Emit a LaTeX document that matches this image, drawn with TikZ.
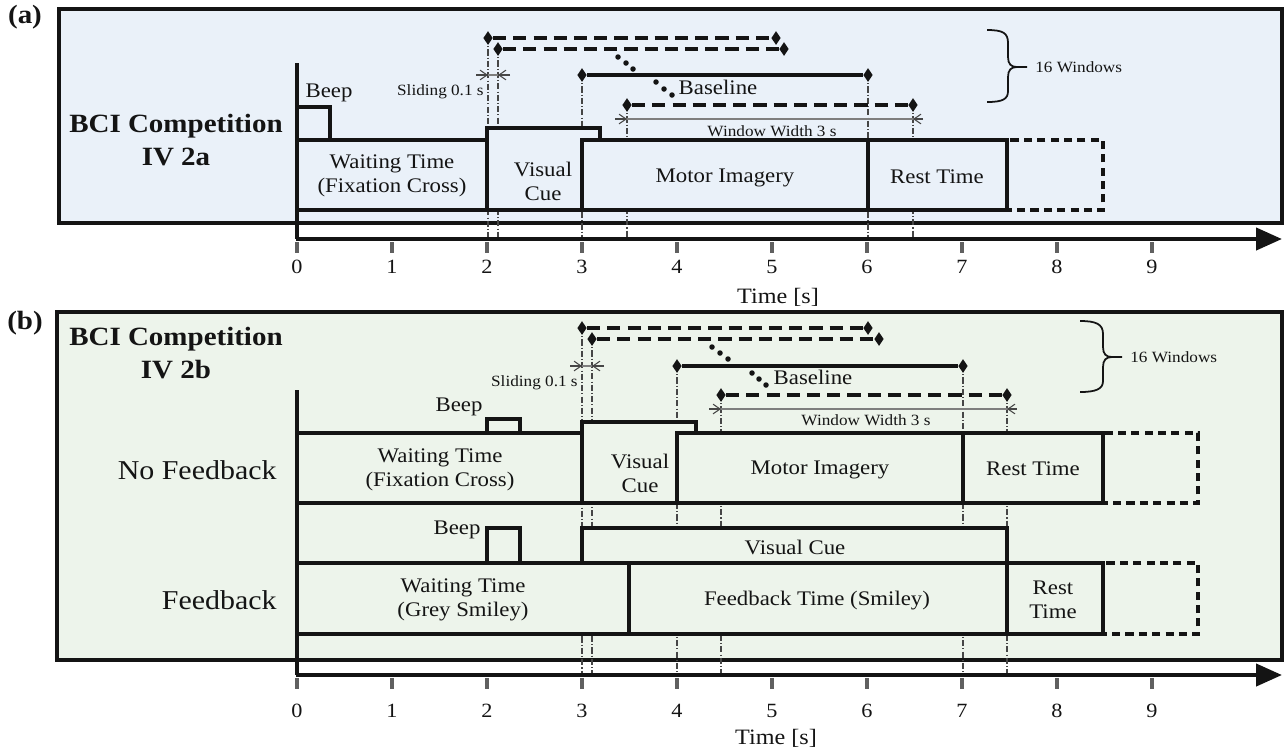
\documentclass[tikz,border=0pt]{standalone}
\usepackage{fontspec}
\setmainfont{Liberation Serif}[FakeStretch=1.1]
\usetikzlibrary{arrows.meta,shapes.geometric}

\definecolor{panelA}{RGB}{234,241,249}
\definecolor{panelB}{RGB}{237,244,235}
\definecolor{ink}{RGB}{20,20,20}
\definecolor{guide}{RGB}{70,70,70}

\tikzset{
  frame/.style={draw=ink, line width=2pt},
  seg/.style={draw=ink, line width=1.8pt},
  ghost/.style={draw=ink, line width=1.8pt, dash pattern=on 4.6pt off 3pt},
  win/.style={draw=ink, line width=1.8pt, dash pattern=on 7.5pt off 4pt},
  base/.style={draw=ink, line width=1.8pt},
  tipmark/.style={diamond, fill=ink, inner sep=0pt, minimum width=0.19cm, minimum height=0.28cm},
  dotmark/.style={circle, fill=ink, inner sep=0pt, minimum size=0.11cm},
  guideline/.style={draw=guide, line width=0.6pt, dash pattern=on 3.5pt off 1.2pt on 0.6pt off 1.2pt},
  dim/.style={draw=guide!70, line width=0.6pt},
  dimtip/.style={draw=guide, line width=0.6pt, -{Straight Barb[length=4pt,width=5.5pt]}},
  timeaxis/.style={draw=ink, line width=2.4pt, -{Triangle[length=0.52cm,width=0.44cm]}},
  upright/.style={draw=ink, line width=1.8pt},
  tickmark/.style={draw=gray!75!black, line width=1.8pt},
  bracepath/.style={draw=ink, line width=1pt},
  boxtxt/.style={font=\fontsize{11.8}{13.6}\selectfont, inner sep=0pt, align=center, text=ink},
  smalltxt/.style={font=\fontsize{8.9}{10}\selectfont, inner sep=0pt, text=ink},
  numtxt/.style={font=\fontsize{11.5}{13}\selectfont, inner sep=0pt, text=ink},
  titletxt/.style={font=\bfseries\fontsize{15}{19}\selectfont, inner sep=0pt, align=center, text=ink},
  rowtxt/.style={font=\fontsize{15.5}{18}\selectfont, inner sep=0pt, anchor=east, text=ink},
}

\begin{document}
\begin{tikzpicture}[x=0.02cm, y=-0.02cm]
\useasboundingbox (0,0) rectangle (1284,752);

%% ---------------- Panel (a): BCI Competition IV 2a ----------------
\path[frame, fill=panelA] (59,9) rectangle (1282,223);
\node[titletxt] (labA) at (25,17) {(a)};
\node[titletxt] (titA) at (176,140) {BCI Competition\\IV 2a};

% guide lines marking window limits
\draw[guideline] (488,38) -- (488,239);
\draw[guideline] (498,49) -- (498,239);
\draw[guideline] (582,75) -- (582,239);
\draw[guideline] (627,105) -- (627,239);
\draw[guideline] (868,75) -- (868,239);
\draw[guideline] (913,105) -- (913,239);

% trial segments
\path[seg, fill=panelA] (297,107) rectangle (330,140);
\node[boxtxt] (beepA) at (329,93) {Beep};
\path[seg, fill=panelA] (297,140) rectangle (487,210);
\node[boxtxt] (waitA) at (392,176) {Waiting Time\\(Fixation Cross)};
\path[seg, fill=panelA] (487,128) rectangle (600,210);
\node[boxtxt] (cueA) at (543,181) {Visual\\Cue};
\path[seg, fill=panelA] (582,140) rectangle (868,210);
\node[boxtxt] (miA) at (725,178) {Motor Imagery};
\path[ghost, fill=panelA] (1007,140) rectangle (1103,210);
\path[seg, fill=panelA] (868,140) rectangle (1007,210);
\node[boxtxt] (restA) at (937,177) {Rest Time};

% sliding windows
\node[tipmark] (a1s) at (488,38) {};  \node[tipmark] (a1e) at (776,38) {};
\node[tipmark] (a2s) at (498,49) {};  \node[tipmark] (a2e) at (784,49) {};
\node[tipmark] (abs) at (582,75) {};  \node[tipmark] (abe) at (868,75) {};
\node[tipmark] (a3s) at (627,105) {}; \node[tipmark] (a3e) at (913,105) {};
\draw[win] (a1s) -- (a1e);
\draw[win] (a2s) -- (a2e);
\draw[base] (abs) -- (abe);
\draw[win] (a3s) -- (a3e);
\node[dotmark] (ad1) at (618,57) {};
\node[dotmark] (ad2) at (626,63) {};
\node[dotmark] (ad3) at (633,69) {};
\node[dotmark] (ad4) at (656,82) {};
\node[dotmark] (ad5) at (664,89) {};
\node[dotmark] (ad6) at (672,95) {};
\node[boxtxt] (baseA) at (718,87) {Baseline};

% sliding step
\coordinate (asl1) at (476,75); \coordinate (asl2) at (488,75);
\coordinate (asr1) at (510,75); \coordinate (asr2) at (498,75);
\draw[dim] (asl2) -- (asr2);
\draw[dimtip] (asl1) -- (asl2);
\draw[dimtip] (asr1) -- (asr2);
\node[smalltxt, anchor=east] (slideA) at (484,92) {Sliding 0.1 s};

% window width
\coordinate (awl1) at (615,119); \coordinate (awl2) at (627,119);
\coordinate (awr1) at (923,119); \coordinate (awr2) at (913,119);
\draw[dim] (awl1) -- (awr1);
\draw[dimtip] (awl1) -- (awl2);
\draw[dimtip] (awr1) -- (awr2);
\node[smalltxt] (widthA) at (772,131) {Window Width 3 s};

% brace
\draw[bracepath] (987,30) .. controls (1003,30) and (1008,33) .. (1008,43)
  -- (1008,57) .. controls (1008,64) and (1011,67) .. (1017,67) -- (1027,67);
\draw[bracepath] (987,102) .. controls (1003,102) and (1008,99) .. (1008,91)
  -- (1008,77) .. controls (1008,70) and (1011,67) .. (1017,67);
\node[smalltxt, anchor=west] (winA) at (1035,67) {16 Windows};

% time axis
\draw[upright] (297,63) -- (297,239);
\draw[timeaxis] (296,239) -- (1282,239);
\foreach \k in {0,...,9} {
  \draw[tickmark] ({297+95*\k},242) -- ({297+95*\k},253);
  \node[numtxt] (tA\k) at ({297+95*\k},267) {\k};
}
\node[numtxt, font=\fontsize{12.5}{14}\selectfont] (timeA) at (778,297) {Time [s]};

%% ---------------- Panel (b): BCI Competition IV 2b ----------------
\path[frame, fill=panelB] (57,312) rectangle (1282,660);
\node[titletxt] (labB) at (25,323) {(b)};
\node[titletxt] (titB) at (176,353) {BCI Competition\\IV 2b};

\draw[guideline] (582,328) -- (582,675);
\draw[guideline] (592,339) -- (592,675);
\draw[guideline] (677,366) -- (677,675);
\draw[guideline] (721,395) -- (721,675);
\draw[guideline] (963,366) -- (963,675);
\draw[guideline] (1007,395) -- (1007,675);

% no feedback row
\node[rowtxt] (rowNF) at (277,470) {No Feedback};
\path[seg, fill=panelB] (487,419) rectangle (520,433);
\node[boxtxt] (beepB1) at (459,407) {Beep};
\path[seg, fill=panelB] (297,433) rectangle (582,503);
\node[boxtxt] (waitB1) at (440,470) {Waiting Time\\(Fixation Cross)};
\path[seg, fill=panelB] (582,422) rectangle (696,503);
\node[boxtxt] (cueB1) at (640,473) {Visual\\Cue};
\path[seg, fill=panelB] (677,433) rectangle (963,503);
\node[boxtxt] (miB1) at (820,470) {Motor Imagery};
\path[ghost, fill=panelB] (1103,433) rectangle (1198,503);
\path[seg, fill=panelB] (963,433) rectangle (1103,503);
\node[boxtxt] (restB1) at (1033,469) {Rest Time};

% feedback row
\node[rowtxt] (rowF) at (277,600) {Feedback};
\path[seg, fill=panelB] (487,528) rectangle (520,563);
\node[boxtxt] (beepB2) at (457,530) {Beep};
\path[seg, fill=panelB] (582,528) rectangle (1007,563);
\node[boxtxt] (cueB2) at (795,547) {Visual Cue};
\path[seg, fill=panelB] (297,563) rectangle (629,634);
\node[boxtxt] (waitB2) at (463,600) {Waiting Time\\(Grey Smiley)};
\path[seg, fill=panelB] (629,563) rectangle (1007,634);
\node[boxtxt] (fbB2) at (817,601) {Feedback Time (Smiley)};
\path[ghost, fill=panelB] (1103,563) rectangle (1198,634);
\path[seg, fill=panelB] (1007,563) rectangle (1103,634);
\node[boxtxt] (restB2) at (1053,600) {Rest\\Time};

% sliding windows
\node[tipmark] (b1s) at (582,328) {};  \node[tipmark] (b1e) at (868,328) {};
\node[tipmark] (b2s) at (592,339) {};  \node[tipmark] (b2e) at (879,339) {};
\node[tipmark] (bbs) at (677,366) {};  \node[tipmark] (bbe) at (963,366) {};
\node[tipmark] (b3s) at (721,395) {};  \node[tipmark] (b3e) at (1007,395) {};
\draw[win] (b1s) -- (b1e);
\draw[win] (b2s) -- (b2e);
\draw[base] (bbs) -- (bbe);
\draw[win] (b3s) -- (b3e);
\node[dotmark] (bd1) at (712,347) {};
\node[dotmark] (bd2) at (720,353) {};
\node[dotmark] (bd3) at (728,359) {};
\node[dotmark] (bd4) at (752,373) {};
\node[dotmark] (bd5) at (759,379) {};
\node[dotmark] (bd6) at (766,385) {};
\node[boxtxt] (baseB) at (813,377) {Baseline};

\coordinate (bsl1) at (570,366); \coordinate (bsl2) at (582,366);
\coordinate (bsr1) at (604,366); \coordinate (bsr2) at (592,366);
\draw[dim] (bsl2) -- (bsr2);
\draw[dimtip] (bsl1) -- (bsl2);
\draw[dimtip] (bsr1) -- (bsr2);
\node[smalltxt, anchor=east] (slideB) at (578,383) {Sliding 0.1 s};

\coordinate (bwl1) at (709,409); \coordinate (bwl2) at (721,409);
\coordinate (bwr1) at (1017,409); \coordinate (bwr2) at (1007,409);
\draw[dim] (bwl1) -- (bwr1);
\draw[dimtip] (bwl1) -- (bwl2);
\draw[dimtip] (bwr1) -- (bwr2);
\node[smalltxt] (widthB) at (866,420) {Window Width 3 s};

\draw[bracepath] (1080,321) .. controls (1096,321) and (1103,324) .. (1103,334)
  -- (1103,347) .. controls (1103,354) and (1106,357) .. (1112,357) -- (1122,357);
\draw[bracepath] (1080,392) .. controls (1096,392) and (1103,389) .. (1103,381)
  -- (1103,367) .. controls (1103,360) and (1106,357) .. (1112,357);
\node[smalltxt, anchor=west] (winB) at (1130,357) {16 Windows};

% time axis
\draw[upright] (297,390) -- (297,675);
\draw[timeaxis] (296,675) -- (1282,675);
\foreach \k in {0,...,9} {
  \draw[tickmark] ({297+95*\k},678) -- ({297+95*\k},689);
  \node[numtxt] (tB\k) at ({297+95*\k},711) {\k};
}
\node[numtxt, font=\fontsize{12.5}{14}\selectfont] (timeB) at (776,738) {Time [s]};
\end{tikzpicture}
\end{document}
